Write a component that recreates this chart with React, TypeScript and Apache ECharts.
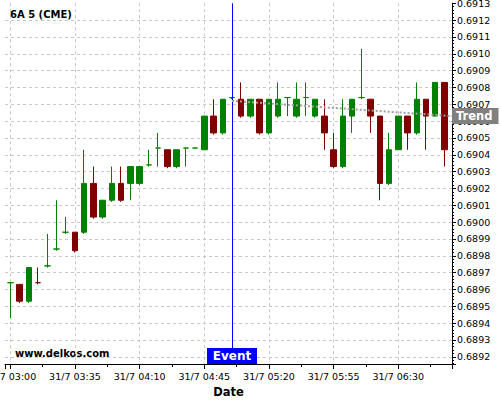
import React, { useEffect, useRef } from 'react';
import * as echarts from 'echarts';

// ---- data ----
const dateLabel = '31/7';
const times = [
  '03:00', '03:05', '03:10', '03:15', '03:20', '03:25', '03:30', '03:35',
  '03:40', '03:45', '03:50', '03:55', '04:00', '04:05', '04:10', '04:15',
  '04:20', '04:25', '04:30', '04:35', '04:40', '04:45', '04:50', '04:55',
  '05:00', '05:05', '05:10', '05:15', '05:20', '05:25', '05:30', '05:35',
  '05:40', '05:45', '05:50', '05:55', '06:00', '06:05', '06:10', '06:15',
  '06:20', '06:25', '06:30', '06:35', '06:40', '06:45', '06:50', '06:55',
];
const opens = [
  0.68964, 0.68963, 0.68953, 0.68964, 0.68974, 0.68984, 0.68994, 0.68994,
  0.68994, 0.69023, 0.69003, 0.69013, 0.69023, 0.69023, 0.69023, 0.69034,
  0.69044, 0.69043, 0.69033, 0.69044, 0.69044, 0.69043, 0.69063, 0.69053,
  0.69074, 0.69073, 0.69063, 0.69073, 0.69053, 0.69063, 0.69074, 0.69063,
  0.69074, 0.69063, 0.69063, 0.69043, 0.69033, 0.69063, 0.69074, 0.69073,
  0.69063, 0.69023, 0.69043, 0.69063, 0.69053, 0.69073, 0.69063, 0.69083,
];
const closes = [
  0.68964, 0.68953, 0.68973, 0.68964, 0.68974, 0.68984, 0.68994, 0.68983,
  0.69023, 0.69003, 0.69013, 0.69023, 0.69013, 0.69033, 0.69033, 0.69034,
  0.69044, 0.69033, 0.69043, 0.69044, 0.69044, 0.69063, 0.69053, 0.69073,
  0.69074, 0.69063, 0.69073, 0.69053, 0.69073, 0.69073, 0.69074, 0.69073,
  0.69074, 0.69073, 0.69053, 0.69033, 0.69063, 0.69073, 0.69074, 0.69063,
  0.69023, 0.69043, 0.69063, 0.69053, 0.69073, 0.69063, 0.69083, 0.69043,
];
const lows = [
  0.68943, 0.68952, 0.68952, 0.68963, 0.68973, 0.68983, 0.68993, 0.68982,
  0.68993, 0.69002, 0.69002, 0.69012, 0.69012, 0.69013, 0.69022, 0.69033,
  0.69033, 0.69032, 0.69032, 0.69033, 0.69044, 0.69043, 0.69052, 0.69052,
  0.69073, 0.69062, 0.69062, 0.69052, 0.69052, 0.69062, 0.69063, 0.69062,
  0.69063, 0.69062, 0.69043, 0.69032, 0.69032, 0.69053, 0.69073, 0.69053,
  0.69013, 0.69022, 0.69043, 0.69043, 0.69052, 0.69043, 0.69063, 0.69033,
];
const highs = [
  0.68964, 0.68963, 0.68973, 0.68973, 0.68993, 0.69013, 0.69003, 0.68994,
  0.69043, 0.69033, 0.69013, 0.69033, 0.69033, 0.69033, 0.69033, 0.69043,
  0.69053, 0.69043, 0.69043, 0.69044, 0.69044, 0.69063, 0.69073, 0.69073,
  0.69074, 0.69083, 0.69073, 0.69073, 0.69073, 0.69083, 0.69074, 0.69083,
  0.69083, 0.69073, 0.69073, 0.69053, 0.69073, 0.69073, 0.69103, 0.69073,
  0.69063, 0.69053, 0.69063, 0.69063, 0.69083, 0.69073, 0.69083, 0.69083,
];
const eventTime = '05:00';
const trendStartValue = 0.69072;
const trendEndValue = 0.69063;
const yTicks = { min: 0.689157, max: 0.6913, step: 0.0001 };
const xRange = { min: -2.87, max: 239.07, step: 35 };

const UP = '#008000';
const DOWN = '#800000';
const EVENT = '#0000ff';

const startMinutes = 3 * 60;
const toMin = (t: string) => {
  const [h, m] = t.split(':').map(Number);
  return h * 60 + m - startMinutes;
};
const pad = (n: number) => (n < 10 ? '0' + n : '' + n);
const fmtX = (v: number) => {
  const t = Math.round(startMinutes + v);
  return `${dateLabel} ${pad(Math.floor(t / 60))}:${pad(t % 60)}`;
};

export default function App() {
  const ref = useRef<HTMLDivElement>(null);
  useEffect(() => {
    document.body.style.margin = '0';
    if (!ref.current) return;
    const chart = echarts.init(ref.current, null, { renderer: 'svg' });
    const data = times.map((t, i) => {
      const o = opens[i];
      const c = closes[i];
      const up = c > o ? true : c < o ? false : i === 0 || closes[i - 1] <= c;
      const col = up ? UP : DOWN;
      return {
        value: [toMin(t), o, c, lows[i], highs[i]],
        itemStyle: { color: col, color0: col, borderColor: col, borderColor0: col },
      };
    });
    const font = 'DejaVu Sans';
    const ev = toMin(eventTime);
    chart.setOption({
      animation: false,
      textStyle: { fontFamily: font },
      title: {
        text: '6A 5 (CME)',
        left: 10,
        top: 9.5,
        padding: 0,
        textStyle: { fontSize: 10, fontWeight: 'bold', color: '#000', fontFamily: font },
      },
      graphic: [
        {
          type: 'text',
          left: 15,
          top: 348,
          style: { text: 'www.delkos.com', font: `bold 10px "${font}"`, fill: '#000' },
        },
      ],
      grid: { left: 5, right: 48, top: 3.3, bottom: 36, outerBoundsMode: 'none', containLabel: false },
      xAxis: {
        type: 'value',
        min: xRange.min,
        max: xRange.max,
        splitNumber: 7,
        minInterval: xRange.step,
        maxInterval: xRange.step,
        name: 'Date',
        nameLocation: 'middle',
        nameGap: 18,
        nameTextStyle: { fontWeight: 'bold', fontSize: 11.5, color: '#000', fontFamily: font },
        axisLine: { show: true, onZero: false, lineStyle: { color: '#000', width: 1 } },
        axisTick: { show: true, length: 5, lineStyle: { color: '#000' } },
        minorTick: { show: true, splitNumber: 2, length: 3, lineStyle: { color: '#000' } },
        axisLabel: {
          formatter: fmtX,
          fontSize: 9.5,
          color: '#000',
          margin: 7,
          showMinLabel: false,
          showMaxLabel: false,
          hideOverlap: false,
          fontFamily: font,
        },
        splitLine: {
          show: true,
          showMinLine: false,
          showMaxLine: false,
          lineStyle: { color: '#c8c8c8', type: [3, 3] },
        },
      },
      yAxis: {
        type: 'value',
        position: 'right',
        scale: true,
        min: yTicks.min,
        max: yTicks.max,
        splitNumber: 20,
        minInterval: yTicks.step,
        maxInterval: yTicks.step,
        axisLine: { show: true, onZero: false, lineStyle: { color: '#000', width: 1 } },
        axisTick: { show: true, length: 4, lineStyle: { color: '#000' } },
        minorTick: { show: true, splitNumber: 5, length: 2, lineStyle: { color: '#000' } },
        axisLabel: {
          formatter: (v: number) => v.toFixed(4),
          fontSize: 9.5,
          color: '#000',
          margin: 5,
          padding: [3, 0, 0, 0],
          showMinLabel: false,
          fontFamily: font,
        },
        splitLine: {
          show: true,
          showMinLine: false,
          showMaxLine: false,
          lineStyle: { color: '#c8c8c8', type: [3, 3] },
        },
      },
      series: [
        {
          type: 'candlestick',
          data,
          barWidth: 6,
          itemStyle: { borderWidth: 1 },
          markLine: {
            silent: true,
            symbol: ['none', 'none'],
            animation: false,
            lineStyle: { color: EVENT, width: 1, type: 'solid', opacity: 1 },
            data: [
              {
                xAxis: ev,
                lineStyle: { color: EVENT, width: 1, type: 'solid', opacity: 1 },
                label: { show: false },
              },
              [
                {
                  coord: [ev, trendStartValue],
                  lineStyle: { color: '#a0a0a0', width: 2, type: [2, 2] },
                  label: {
                    show: true,
                    position: 'end',
                    formatter: 'Trend',
                    color: '#fff',
                    fontWeight: 'bold',
                    fontSize: 11.5,
                    fontFamily: font,
                    backgroundColor: '#808080',
                    padding: [2, 6, 1, 4],
                    lineHeight: 13,
                    distance: 0,
                  },
                },
                { coord: [xRange.max, trendEndValue] },
              ],
            ],
          },
          markPoint: {
            silent: true,
            animation: false,
            data: [
              {
                coord: [ev, yTicks.min],
                symbol: 'rect',
                symbolSize: [50, 16],
                symbolOffset: [0, -8],
                itemStyle: { color: EVENT, borderWidth: 0 },
                label: {
                  show: true,
                  position: 'inside',
                  formatter: 'Event',
                  color: '#fff',
                  fontWeight: 'bold',
                  fontSize: 12,
                  fontFamily: font,
                },
              },
            ],
          },
        },
      ],
    });
    return () => chart.dispose();
  }, []);
  return <div ref={ref} style={{ width: 500, height: 400 }} />;
}
